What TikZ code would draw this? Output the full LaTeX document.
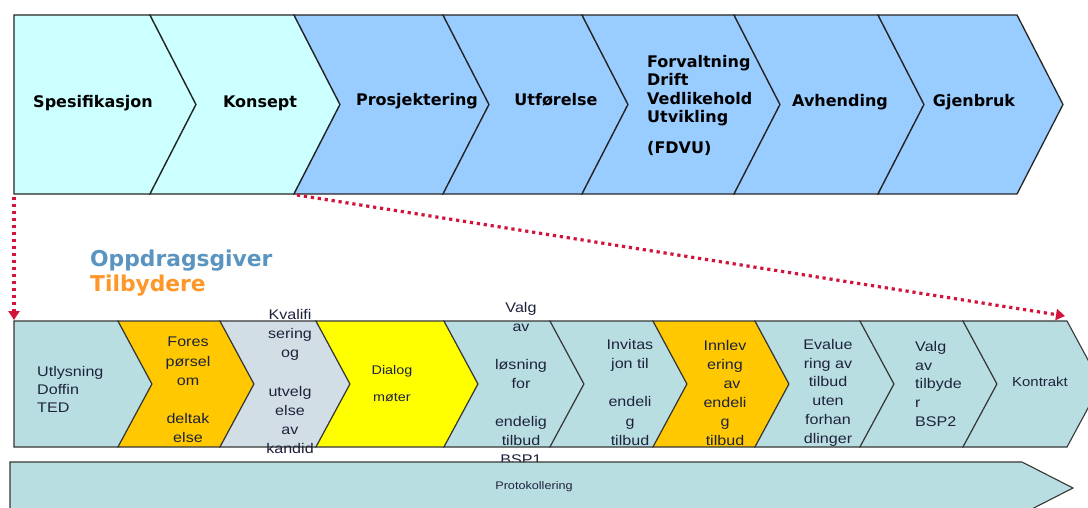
\documentclass[tikz,border=0pt]{standalone}
\usepackage{fontspec}
\newfontfamily\verdanafont{DejaVu Sans}
\newfontfamily\arialfont{Liberation Sans}[FakeStretch=1.15]
\usetikzlibrary{arrows.meta}

\definecolor{phaselight}{RGB}{204,255,255}
\definecolor{phaseblue}{RGB}{153,204,255}
\definecolor{stepteal}{RGB}{185,222,226}
\definecolor{steporange}{RGB}{255,200,0}
\definecolor{stepgrey}{RGB}{210,222,230}
\definecolor{stepyellow}{RGB}{255,255,0}
\definecolor{arrowred}{RGB}{210,20,60}
\definecolor{clientblue}{RGB}{90,148,192}
\definecolor{bidderorange}{RGB}{255,150,40}
\definecolor{steptext}{RGB}{30,35,60}
\definecolor{stepline}{RGB}{55,55,55}

% chevron: style, left x, right x, top y, bottom y, notch depth
\newcommand{\chevshape}[6]{%
  \draw[#1] (#2,#4) -- (#3,#4) -- ({#3+#6},{(#4+#5)/2}) -- (#3,#5)
    -- (#2,#5) -- ({#2+#6},{(#4+#5)/2}) -- cycle;}
% first chevron of a row, flat on the left
\newcommand{\chevstart}[6]{%
  \draw[#1] (#2,#4) -- (#3,#4) -- ({#3+#6},{(#4+#5)/2}) -- (#3,#5)
    -- (#2,#5) -- cycle;}

\begin{document}
\begin{tikzpicture}[x=1pt,y=-1pt,
  phase/.style={draw=black!85,line width=1.3pt,line join=miter},
  lightphase/.style={phase,fill=phaselight},
  bluephase/.style={phase,fill=phaseblue},
  stepbox/.style={draw=stepline,line width=1.1pt,line join=miter},
  tealbox/.style={stepbox,fill=stepteal},
  orangebox/.style={stepbox,fill=steporange},
  greybox/.style={stepbox,fill=stepgrey},
  yellowbox/.style={stepbox,fill=stepyellow},
  toptxt/.style={font=\verdanafont\bfseries\fontsize{16}{18.4}\selectfont,
    inner sep=0pt,text=black},
  legendtxt/.style={font=\verdanafont\bfseries\fontsize{21.8}{24}\selectfont,
    inner sep=0pt,anchor=base west},
  lowtxt/.style={font=\arialfont\fontsize{14}{19.2}\selectfont,
    inner sep=0pt,text=steptext,align=center,anchor=north,
    execute at begin node={\rule{0pt}{11pt}}},
  redarrow/.style={draw=arrowred,line width=3.2pt,
    dash pattern=on 3.2pt off 3.8pt,
    -{Triangle[length=9pt,width=11pt]}}
]
\useasboundingbox (0,0) rectangle (1088,508);
\fill[white] (0,0) rectangle (1088,508);

% ---- life cycle phases ----
\chevstart{lightphase}{14}{150}{15}{194}{46}
\chevshape{lightphase}{150}{294}{15}{194}{46}
\chevshape{bluephase}{294}{443}{15}{194}{46}
\chevshape{bluephase}{443}{582}{15}{194}{46}
\chevshape{bluephase}{582}{734}{15}{194}{46}
\chevshape{bluephase}{734}{878}{15}{194}{46}
\chevshape{bluephase}{878}{1017}{15}{194}{46}

\node[toptxt,anchor=base] (spes) at (93,108) {Spesifikasjon};
\node[toptxt,anchor=base] (kons) at (260,108) {Konsept};
\node[toptxt,anchor=base] (prosj) at (417,106) {Prosjektering};
\node[toptxt,anchor=base] (utf) at (556,106) {Utførelse};
\node[toptxt,anchor=north west,align=left,
  execute at begin node={\rule{0pt}{12pt}}] (fdvu) at (647,55)
  {Forvaltning\\Drift\\Vedlikehold\\Utvikling\\[12.6pt](FDVU)};
\node[toptxt,anchor=base] (avh) at (840,107) {Avhending};
\node[toptxt,anchor=base] (gjen) at (974,107) {Gjenbruk};

% ---- legend ----
\node[legendtxt,text=clientblue] (client) at (90,266) {Oppdragsgiver};
\node[legendtxt,text=bidderorange] (bidder) at (90,291) {Tilbydere};

% ---- procurement steps ----
\chevstart{tealbox}{14}{118}{321}{447}{34}
\chevshape{orangebox}{118}{220}{321}{447}{34}
\chevshape{greybox}{220}{316}{321}{447}{34}
\chevshape{yellowbox}{316}{444}{321}{447}{34}
\chevshape{tealbox}{444}{550}{321}{447}{34}
\chevshape{tealbox}{550}{653}{321}{447}{34}
\chevshape{orangebox}{653}{755}{321}{447}{34}
\chevshape{tealbox}{755}{860}{321}{447}{34}
\chevshape{tealbox}{860}{963}{321}{447}{34}
\chevshape{tealbox}{963}{1067}{321}{447}{34}

\node[lowtxt,anchor=north west,align=left,
  font=\arialfont\fontsize{14}{18}\selectfont] (utl) at (37,366)
  {Utlysning\\Doffin\\TED};
\node[lowtxt] (foresp) at (188,337)
  {Fores\\pørsel\\om\\\mbox{}\\deltak\\else};
\node[lowtxt] (kval) at (290,309)
  {Kvalifi\\sering\\og\\\mbox{}\\utvelg\\else\\av\\kandid};
\node[lowtxt,font=\arialfont\fontsize{12.5}{27}\selectfont] (dialog) at (392,365)
  {Dialog\\møter};
\node[lowtxt,font=\arialfont\fontsize{14}{19}\selectfont] (losn) at (521,302)
  {Valg\\av\\\mbox{}\\løsning\\for\\\mbox{}\\endelig\\tilbud\\BSP1};
\node[lowtxt] (invit) at (630,339)
  {Invitas\\jon til\\\mbox{}\\endeli\\g\\tilbud};
\node[lowtxt,font=\arialfont\fontsize{14}{19}\selectfont] (innlev) at (725,340.5)
  {Innlev\\ering\\\hspace*{14pt}av\\endeli\\g\\tilbud};
\node[lowtxt,font=\arialfont\fontsize{14}{18.8}\selectfont] (eval) at (828,339)
  {Evalue\\ring av\\tilbud\\uten\\forhan\\dlinger};
\node[lowtxt,anchor=north west,align=left,
  font=\arialfont\fontsize{14}{18.8}\selectfont] (valgtb) at (915,341)
  {Valg\\av\\tilbyde\\r\\BSP2};
\node[lowtxt,anchor=base,font=\arialfont\fontsize{13}{15}\selectfont,
  execute at begin node={}] (kontr) at (1040,386) {Kontrakt};

% ---- documentation bar ----
\chevstart{tealbox}{10}{1022}{462}{514}{51}
\node[lowtxt,anchor=base,font=\arialfont\fontsize{11}{13}\selectfont,
  execute at begin node={}] (prot) at (534,489) {Protokollering};

% ---- links from the phases to the steps ----
\coordinate (spesBL) at (14,197);
\coordinate (utlTL) at (14,320);
\coordinate (konsBR) at (297,195);
\coordinate (kontTR) at (1065,316);
\draw[redarrow] (spesBL) -- (utlTL);
\draw[redarrow] (konsBR) -- (kontTR);
\end{tikzpicture}
\end{document}
